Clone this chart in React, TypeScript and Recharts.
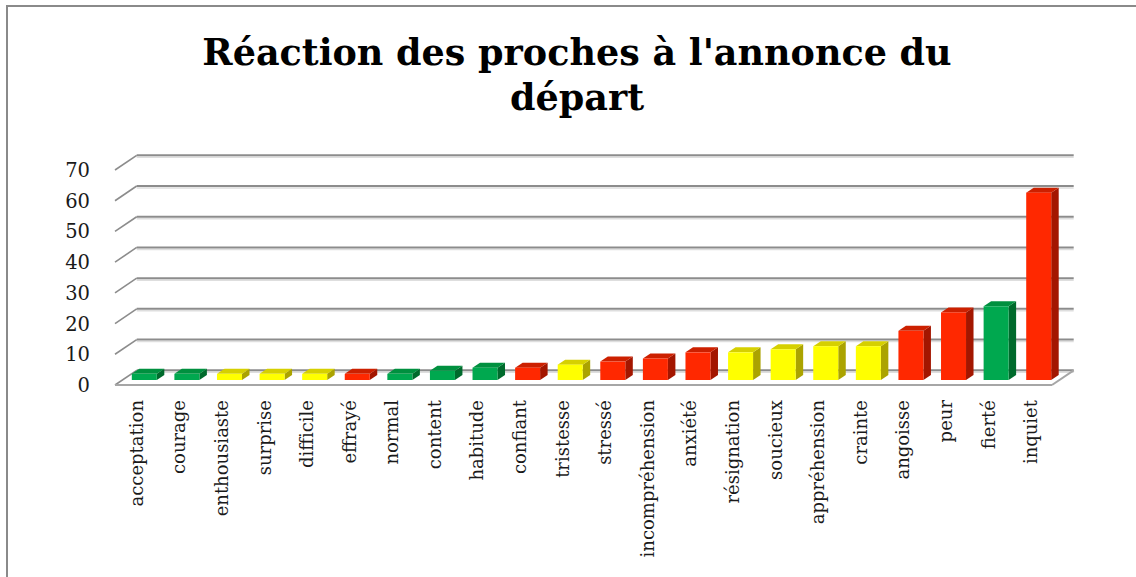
import React from 'react';
import { BarChart, Bar, XAxis, YAxis, CartesianGrid, Cell } from 'recharts';

const categories = ['acceptation','courage','enthousiaste','surprise','difficile','effrayé','normal','content','habitude','confiant','tristesse','stressé','incompréhension','anxiété','résignation','soucieux','appréhension','crainte','angoisse','peur','fierté','inquiet'];
const counts = [2,2,2,2,2,2,2,3,4,4,5,6,7,9,9,10,11,11,16,22,24,61];
const tones = ['pos','pos','neu','neu','neu','neg','pos','pos','pos','neg','neu','neg','neg','neg','neu','neu','neu','neu','neg','neg','pos','neg'];
const yTicks = [0,10,20,30,40,50,60,70];
const titleLines = ["Réaction des proches à l'annonce du", 'départ'];

const palette: Record<string, { front: string; side: string; top: string }> = {
  pos: { front: '#00a84f', side: '#006a2c', top: '#00903f' },
  neu: { front: '#ffff00', side: '#aba300', top: '#d6d000' },
  neg: { front: '#ff2800', side: '#a31600', top: '#cc2000' },
};

const data = categories.map((c, i) => ({ name: c, value: counts[i], tone: tones[i] }));

// 3D geometry (wall depth and bar depth offsets)
const WALL_DX = 21.7;
const WALL_DY = -14.7;
const BAR_SHIFT_X = 7.8;
const BAR_SHIFT_Y = -5;
const BAR_DX = 7.5;
const BAR_DY = -5;

const serif = '"DejaVu Serif", serif';

const Bar3D = (props: any) => {
  const { x, y, width, height, payload } = props;
  const c = palette[payload.tone];
  const fx = x + BAR_SHIFT_X;
  const fy = y + BAR_SHIFT_Y;
  const h = height;
  const w = width;
  return (
    <g>
      <polygon
        points={`${fx + w},${fy} ${fx + w + BAR_DX},${fy + BAR_DY} ${fx + w + BAR_DX},${fy + h + BAR_DY} ${fx + w},${fy + h}`}
        fill={c.side}
      />
      <polygon
        points={`${fx},${fy} ${fx + BAR_DX},${fy + BAR_DY} ${fx + w + BAR_DX},${fy + BAR_DY} ${fx + w},${fy}`}
        fill={c.top}
      />
      <rect x={fx} y={fy} width={w} height={h} fill={c.front} />
    </g>
  );
};

const GridLine3D = (props: any) => {
  const { x1, x2, y1, y, height, index } = props;
  const isFloor = Math.abs(y1 - (y + height)) < 0.5;
  const by = y1 + WALL_DY;
  const stroke = '#8c8c8c';
  return (
    <g key={`g-${index}`}>
      <line x1={x1 + WALL_DX} y1={by + 2} x2={x2 + WALL_DX} y2={by + 2} stroke="#dedede" strokeWidth={1.5} />
      <line x1={x1 + WALL_DX} y1={by} x2={x2 + WALL_DX} y2={by} stroke={stroke} strokeWidth={2} />
      <line x1={x1} y1={y1} x2={x1 + WALL_DX} y2={by} stroke={stroke} strokeWidth={1.6} />
      {isFloor && (
        <g>
          <line x1={x1} y1={y1} x2={x2} y2={y1} stroke="#a6a6a6" strokeWidth={2} />
          <line x1={x2} y1={y1} x2={x2 + WALL_DX} y2={by} stroke="#a6a6a6" strokeWidth={2} />
        </g>
      )}
    </g>
  );
};

const XTick = (props: any) => {
  const { x, y, payload } = props;
  return (
    <text
      x={x}
      y={y}
      transform={`rotate(-90, ${x}, ${y})`}
      textAnchor="end"
      dy="0.36em"
      fontFamily={serif}
      fontSize={18}
      fill="#1a1a1a"
    >
      {payload.value}
    </text>
  );
};

const YTick = (props: any) => {
  const { x, y, payload } = props;
  return (
    <text x={x} y={y} dy="0.36em" textAnchor="end" fontFamily={serif} fontSize={19.5} fill="#1a1a1a">
      {payload.value}
    </text>
  );
};

export default function App() {
  return (
    <div style={{ position: 'absolute', left: 0, top: 0, width: 1136, height: 577, background: '#ffffff', overflow: 'hidden' }}>
      <div
        style={{
          position: 'absolute',
          left: 6,
          top: 5,
          width: 1200,
          height: 700,
          borderLeft: '2px solid #8a8a8a',
          borderTop: '2px solid #8a8a8a',
        }}
      />
      <div
        style={{
          position: 'absolute',
          left: 9,
          top: 30,
          width: 1136,
          textAlign: 'center',
          fontFamily: serif,
          fontWeight: 'bold',
          fontSize: 36.5,
          lineHeight: '45px',
          color: '#000',
        }}
      >
        {titleLines.map((t) => (
          <div key={t}>{t}</div>
        ))}
      </div>
      <div style={{ position: 'absolute', left: 0, top: 0 }}>
        <BarChart width={1136} height={577} data={data} margin={{ top: 170, right: 84, left: 55, bottom: 42 }}>
          <CartesianGrid vertical={false} horizontal={(p: any) => <GridLine3D {...p} />} />
          <XAxis
            dataKey="name"
            interval={0}
            height={150}
            axisLine={false}
            tickLine={false}
            tickMargin={9}
            tick={<XTick />}
          />
          <YAxis
            domain={[0, 70]}
            ticks={yTicks}
            width={60}
            axisLine={false}
            tickLine={false}
            tickMargin={19}
            tick={<YTick />}
          />
          <Bar dataKey="value" barSize={25} isAnimationActive={false} shape={(p: any) => <Bar3D {...p} />}>
            {data.map((d, i) => (
              <Cell key={i} fill={palette[d.tone].front} />
            ))}
          </Bar>
        </BarChart>
      </div>
    </div>
  );
}
